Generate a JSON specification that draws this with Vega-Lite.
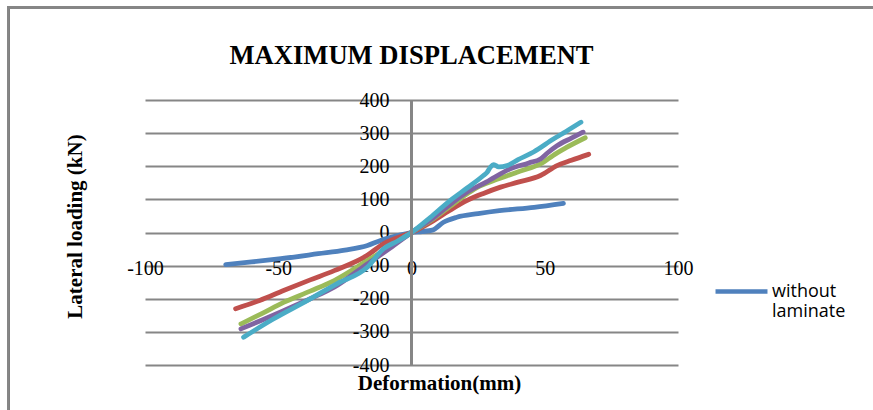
{
  "$schema": "https://vega.github.io/schema/vega-lite/v6.json",
  "width": 533,
  "height": 265,
  "autosize": "none",
  "padding": {"left": 145, "top": 100, "right": 195, "bottom": 45},
  "background": "white",
  "title": {
    "text": "MAXIMUM DISPLACEMENT",
    "font": "Liberation Serif",
    "fontSize": 26.6,
    "fontWeight": "bold",
    "color": "black",
    "anchor": "middle",
    "offset": 0,
    "dy": 63
  },
  "config": {
    "view": {"stroke": null},
    "axis": {
      "labelFont": "Liberation Serif",
      "labelFontSize": 20,
      "labelColor": "black",
      "titleFont": "Liberation Serif",
      "titleFontSize": 21,
      "titleFontWeight": "bold",
      "titleColor": "black",
      "domain": false,
      "ticks": false,
      "labelOverlap": false,
      "labelFlush": false,
      "labelBound": false
    }
  },
  "datasets": {
    "curves": [
      {"series": "without laminate", "x": -69.7, "y": -97},
      {"series": "without laminate", "x": -60, "y": -89},
      {"series": "without laminate", "x": -49, "y": -79},
      {"series": "without laminate", "x": -35, "y": -64},
      {"series": "without laminate", "x": -25, "y": -53},
      {"series": "without laminate", "x": -16.5, "y": -39},
      {"series": "without laminate", "x": -11.6, "y": -24},
      {"series": "without laminate", "x": -6, "y": -11},
      {"series": "without laminate", "x": 0, "y": 0},
      {"series": "without laminate", "x": 4, "y": 3},
      {"series": "without laminate", "x": 7.8, "y": 7},
      {"series": "without laminate", "x": 12, "y": 31},
      {"series": "without laminate", "x": 17, "y": 46},
      {"series": "without laminate", "x": 25, "y": 57},
      {"series": "without laminate", "x": 33, "y": 66},
      {"series": "without laminate", "x": 46, "y": 76},
      {"series": "without laminate", "x": 57, "y": 88},

      {"series": "laminate 1", "x": -66, "y": -230},
      {"series": "laminate 1", "x": -57, "y": -205},
      {"series": "laminate 1", "x": -48, "y": -175},
      {"series": "laminate 1", "x": -38, "y": -143},
      {"series": "laminate 1", "x": -29, "y": -115},
      {"series": "laminate 1", "x": -16.6, "y": -69},
      {"series": "laminate 1", "x": -10.5, "y": -34},
      {"series": "laminate 1", "x": -5, "y": -15},
      {"series": "laminate 1", "x": 0, "y": 0},
      {"series": "laminate 1", "x": 8.3, "y": 36},
      {"series": "laminate 1", "x": 14, "y": 65},
      {"series": "laminate 1", "x": 20.9, "y": 97},
      {"series": "laminate 1", "x": 27, "y": 118},
      {"series": "laminate 1", "x": 33.4, "y": 137},
      {"series": "laminate 1", "x": 40, "y": 152},
      {"series": "laminate 1", "x": 48.4, "y": 172},
      {"series": "laminate 1", "x": 54.6, "y": 202},
      {"series": "laminate 1", "x": 60, "y": 218},
      {"series": "laminate 1", "x": 66.5, "y": 236},

      {"series": "laminate 2", "x": -64, "y": -276},
      {"series": "laminate 2", "x": -56, "y": -244},
      {"series": "laminate 2", "x": -48, "y": -211},
      {"series": "laminate 2", "x": -38, "y": -177},
      {"series": "laminate 2", "x": -29, "y": -145},
      {"series": "laminate 2", "x": -16.6, "y": -85},
      {"series": "laminate 2", "x": -8, "y": -42},
      {"series": "laminate 2", "x": 0, "y": 0},
      {"series": "laminate 2", "x": 8.3, "y": 42},
      {"series": "laminate 2", "x": 14.6, "y": 80},
      {"series": "laminate 2", "x": 20.9, "y": 117},
      {"series": "laminate 2", "x": 25, "y": 138},
      {"series": "laminate 2", "x": 30.9, "y": 157},
      {"series": "laminate 2", "x": 39.6, "y": 182},
      {"series": "laminate 2", "x": 49.5, "y": 212},
      {"series": "laminate 2", "x": 53, "y": 232},
      {"series": "laminate 2", "x": 58, "y": 256},
      {"series": "laminate 2", "x": 65.2, "y": 286},

      {"series": "laminate 3", "x": -64, "y": -291},
      {"series": "laminate 3", "x": -56, "y": -264},
      {"series": "laminate 3", "x": -48, "y": -236},
      {"series": "laminate 3", "x": -38, "y": -200},
      {"series": "laminate 3", "x": -29, "y": -165},
      {"series": "laminate 3", "x": -16.6, "y": -95},
      {"series": "laminate 3", "x": -8, "y": -47},
      {"series": "laminate 3", "x": 0, "y": 0},
      {"series": "laminate 3", "x": 8.3, "y": 45},
      {"series": "laminate 3", "x": 14.6, "y": 85},
      {"series": "laminate 3", "x": 20.9, "y": 122},
      {"series": "laminate 3", "x": 28, "y": 152},
      {"series": "laminate 3", "x": 37, "y": 192},
      {"series": "laminate 3", "x": 44, "y": 210},
      {"series": "laminate 3", "x": 48.4, "y": 222},
      {"series": "laminate 3", "x": 51, "y": 240},
      {"series": "laminate 3", "x": 54.6, "y": 262},
      {"series": "laminate 3", "x": 60, "y": 285},
      {"series": "laminate 3", "x": 64.4, "y": 303},

      {"series": "laminate 4", "x": -63, "y": -316},
      {"series": "laminate 4", "x": -52, "y": -262},
      {"series": "laminate 4", "x": -39, "y": -205},
      {"series": "laminate 4", "x": -28, "y": -155},
      {"series": "laminate 4", "x": -16.6, "y": -105},
      {"series": "laminate 4", "x": -10.5, "y": -49},
      {"series": "laminate 4", "x": -5, "y": -25},
      {"series": "laminate 4", "x": 0, "y": 0},
      {"series": "laminate 4", "x": 7, "y": 45},
      {"series": "laminate 4", "x": 14.6, "y": 97},
      {"series": "laminate 4", "x": 21, "y": 135},
      {"series": "laminate 4", "x": 27, "y": 172},
      {"series": "laminate 4", "x": 28.4, "y": 182},
      {"series": "laminate 4", "x": 29.6, "y": 197},
      {"series": "laminate 4", "x": 30.9, "y": 205},
      {"series": "laminate 4", "x": 32.7, "y": 198},
      {"series": "laminate 4", "x": 35.9, "y": 202},
      {"series": "laminate 4", "x": 40, "y": 220},
      {"series": "laminate 4", "x": 45.8, "y": 243},
      {"series": "laminate 4", "x": 53.4, "y": 283},
      {"series": "laminate 4", "x": 58, "y": 305},
      {"series": "laminate 4", "x": 63.6, "y": 333}
    ]
  },
  "data": {"name": "curves"},
  "encoding": {
    "x": {
      "type": "quantitative",
      "scale": {"domain": [-100, 100], "nice": false, "zero": false},
      "axis": {
        "values": [-100, -50, 0, 50, 100],
        "grid": false,
        "labelPadding": -97,
        "labelBaseline": "middle",
        "labelExpr": "'' + datum.value",
        "title": "Deformation(mm)",
        "titleX": 294,
        "titleY": 18,
        "titleAlign": "center",
        "titleBaseline": "middle",
        "titleAnchor": null
      }
    },
    "y": {
      "type": "quantitative",
      "scale": {"domain": [-400, 400], "nice": false, "zero": false},
      "axis": {
        "values": [-400, -300, -200, -100, 0, 100, 200, 300, 400],
        "grid": true,
        "gridColor": "#868686",
        "gridWidth": 2,
        "labelAlign": "right",
        "labelPadding": -244,
        "labelExpr": "'' + datum.value",
        "title": "Lateral loading (kN)",
        "titleX": -70,
        "titleY": 126,
        "titleAngle": -90,
        "titleAlign": "center",
        "titleBaseline": "middle",
        "titleAnchor": null
      }
    }
  },
  "layer": [
    {
      "mark": {"type": "rect", "fillOpacity": 0, "stroke": "#868686", "strokeWidth": 2, "clip": false},
      "encoding": {
        "x": {"datum": -151.4, "type": "quantitative"},
        "x2": {"datum": 250},
        "y": {"datum": 679, "type": "quantitative"},
        "y2": {"datum": -700}
      }
    },
    {
      "mark": {"type": "line", "strokeWidth": 4.8, "strokeCap": "round", "strokeJoin": "round", "interpolate": "monotone"},
      "encoding": {
        "x": {"field": "x", "type": "quantitative"},
        "y": {"field": "y", "type": "quantitative"},
        "color": {
          "field": "series",
          "type": "nominal",
          "scale": {
            "domain": ["without laminate", "laminate 1", "laminate 2", "laminate 3", "laminate 4"],
            "range": ["#4F81BD", "#C0504D", "#9BBB59", "#8064A2", "#4BACC6"]
          },
          "legend": {
            "values": ["without laminate"],
            "orient": "none",
            "legendX": 568,
            "legendY": 163,
            "title": null,
            "symbolType": "stroke",
            "symbolSize": 2700,
            "symbolStrokeWidth": 4.5,
            "labelFont": "Open Sans",
            "labelFontSize": 18,
            "labelLineHeight": 25,
            "labelColor": "black",
            "labelOffset": 2,
            "labelLimit": 200,
            "labelExpr": "datum.label == 'without laminate' ? ['without', 'laminate'] : datum.label"
          }
        }
      }
    },
    {
      "mark": {"type": "rule", "color": "#868686", "strokeWidth": 2},
      "encoding": {
        "x": {"datum": 0, "type": "quantitative"}
      }
    }
  ]
}
